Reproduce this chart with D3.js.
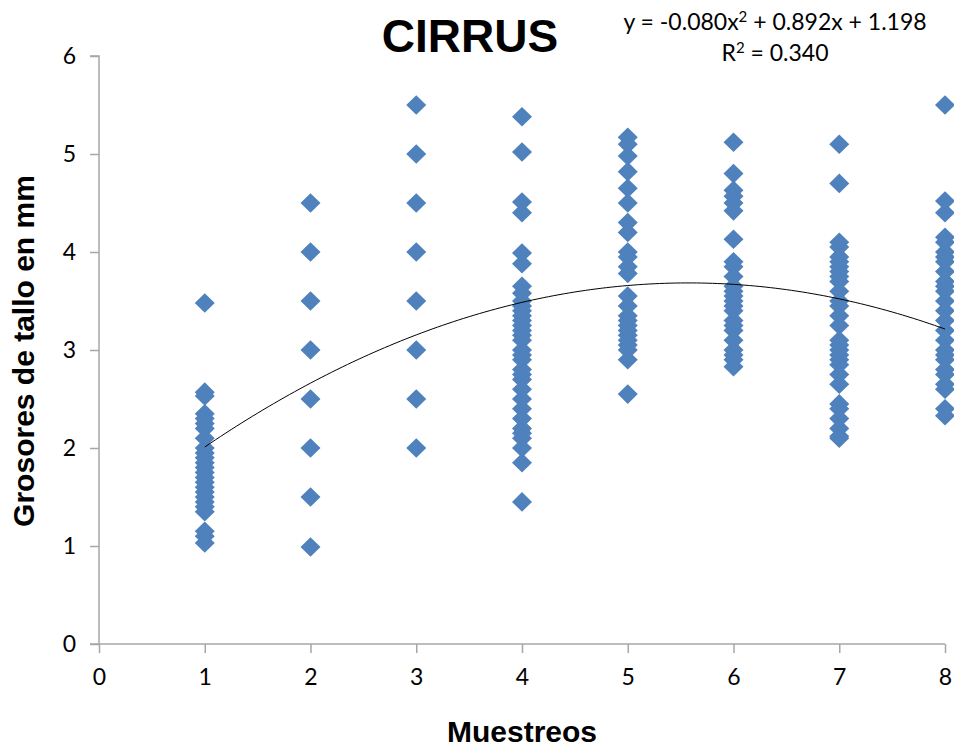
<!DOCTYPE html>
<html>
<head>
<meta charset="utf-8">
<script src="https://cdn.jsdelivr.net/npm/d3@7"></script>
<style>
  body { margin: 0; background: #fff; }
  svg { display: block; }
</style>
</head>
<body>
<script>
// values, one array per sampling
var muestreos = [1, 2, 3, 4, 5, 6, 7, 8];
var grosores1 = [3.48, 2.57, 2.53, 2.35, 2.3, 2.25, 2.2, 2.1, 2.0, 1.95, 1.9, 1.85, 1.8, 1.75, 1.7, 1.65, 1.6, 1.55, 1.5, 1.45, 1.4, 1.35, 1.15, 1.1, 1.03];
var grosores2 = [4.5, 4.0, 3.5, 3.0, 2.5, 2.0, 1.5, 0.99];
var grosores3 = [5.5, 5.0, 4.5, 4.0, 3.5, 3.0, 2.5, 2.0];
var grosores4 = [5.38, 5.02, 4.51, 4.4, 3.99, 3.88, 3.65, 3.58, 3.5, 3.45, 3.4, 3.35, 3.3, 3.25, 3.2, 3.15, 3.1, 3.0, 2.95, 2.9, 2.8, 2.75, 2.7, 2.6, 2.5, 2.4, 2.3, 2.2, 2.15, 2.1, 2.0, 1.85, 1.45];
var grosores5 = [5.17, 5.1, 4.98, 4.82, 4.65, 4.5, 4.3, 4.2, 4.0, 3.95, 3.85, 3.78, 3.55, 3.45, 3.35, 3.3, 3.25, 3.2, 3.15, 3.1, 3.05, 3.0, 2.9, 2.55];
var grosores6 = [5.12, 4.8, 4.63, 4.57, 4.5, 4.42, 4.13, 3.9, 3.85, 3.75, 3.65, 3.6, 3.55, 3.5, 3.45, 3.4, 3.3, 3.25, 3.2, 3.1, 3.0, 2.95, 2.9, 2.83];
var grosores7 = [5.1, 4.7, 4.1, 4.05, 3.95, 3.9, 3.85, 3.8, 3.75, 3.7, 3.6, 3.5, 3.45, 3.35, 3.25, 3.1, 3.05, 3.0, 2.95, 2.9, 2.85, 2.75, 2.65, 2.45, 2.4, 2.3, 2.2, 2.12, 2.1];
var grosores8 = [5.5, 4.52, 4.4, 4.15, 4.1, 4.0, 3.95, 3.9, 3.8, 3.7, 3.65, 3.6, 3.5, 3.4, 3.3, 3.2, 3.1, 3.0, 2.95, 2.9, 2.8, 2.75, 2.65, 2.6, 2.4, 2.33];
var xTicks = [0, 1, 2, 3, 4, 5, 6, 7, 8];
var yTicks = [0, 1, 2, 3, 4, 5, 6];
// polynomial trendline as printed on the chart
var coefs = [-0.080, 0.892, 1.198];
var r2 = 0.340;

var columnas = [grosores1, grosores2, grosores3, grosores4, grosores5, grosores6, grosores7, grosores8];
var puntos = [];
columnas.forEach(function(col, i) {
  col.forEach(function(v) { puntos.push({ x: muestreos[i], y: v }); });
});

var W = 954, H = 749;
var svg = d3.select('body').append('svg').attr('width', W).attr('height', H);

var x = d3.scaleLinear().domain([0, 8]).range([99, 945]);
var y = d3.scaleLinear().domain([0, 6]).range([644, 56]);

var gris = '#a6a6a6';
var fuente = 'Lato, "Open Sans", sans-serif';

// y axis
var yAxis = svg.append('g').attr('transform', 'translate(99,0)')
  .call(d3.axisLeft(y).tickValues(yTicks).tickSize(9).tickPadding(14).tickFormat(d3.format('d')));
// x axis
var xAxis = svg.append('g').attr('transform', 'translate(0,644)')
  .call(d3.axisBottom(x).tickValues(xTicks).tickSize(9).tickPadding(16).tickFormat(d3.format('d')));

[yAxis, xAxis].forEach(function(g) {
  g.select('.domain').attr('stroke', gris).attr('stroke-width', 1.5);
  g.selectAll('.tick line').attr('stroke', gris).attr('stroke-width', 1.5);
  g.selectAll('.tick text').attr('fill', '#000').style('font-family', fuente).style('font-size', '23px');
});
// domain lines, with the small outer stubs
xAxis.select('.domain').attr('d', 'M' + (x(0) - 9) + ',0H' + x(8));
yAxis.select('.domain').attr('d', 'M-9,' + y(6) + 'H0V' + y(0));

// markers
var diamante = 'M0,-9.8L10,0L0,9.8L-10,0Z';
svg.append('g').selectAll('path')
  .data(puntos)
  .enter()
  .append('path')
  .attr('d', diamante)
  .attr('transform', function(d) { return 'translate(' + x(d.x) + ',' + y(d.y) + ')'; })
  .attr('fill', '#4F81BD');

// trendline
var curva = d3.range(1, 8.001, 0.05).map(function(t) {
  return [t, coefs[0] * t * t + coefs[1] * t + coefs[2]];
});
svg.append('path')
  .datum(curva)
  .attr('fill', 'none')
  .attr('stroke', '#000')
  .attr('stroke-width', 1)
  .attr('d', d3.line().x(function(d) { return x(d[0]); }).y(function(d) { return y(d[1]); }));

// title
svg.append('text')
  .attr('x', 470).attr('y', 52)
  .attr('text-anchor', 'middle')
  .style('font-family', '"Liberation Sans", Arial, sans-serif')
  .style('font-weight', 'bold')
  .style('font-size', '46px')
  .text('CIRRUS');

// equation
var eq = svg.append('text')
  .attr('x', 775).attr('y', 30)
  .attr('text-anchor', 'middle')
  .style('font-family', fuente)
  .style('font-size', '23px');
eq.append('tspan').text('y = ' + coefs[0].toFixed(3) + 'x');
eq.append('tspan').attr('dy', -8).style('font-size', '15px').text('2');
eq.append('tspan').attr('dy', 8).text(' + ' + coefs[1].toFixed(3) + 'x + ' + coefs[2].toFixed(3));

var r2t = svg.append('text')
  .attr('x', 775).attr('y', 61)
  .attr('text-anchor', 'middle')
  .style('font-family', fuente)
  .style('font-size', '23px');
r2t.append('tspan').text('R');
r2t.append('tspan').attr('dy', -8).style('font-size', '15px').text('2');
r2t.append('tspan').attr('dy', 8).text(' = ' + r2.toFixed(3));

// axis titles
svg.append('text')
  .attr('transform', 'translate(34,351) rotate(-90)')
  .attr('text-anchor', 'middle')
  .style('font-family', '"Liberation Sans", Arial, sans-serif')
  .style('font-weight', 'bold')
  .style('font-size', '30px')
  .text('Grosores de tallo en mm');

svg.append('text')
  .attr('x', 522).attr('y', 742)
  .attr('text-anchor', 'middle')
  .style('font-family', '"Liberation Sans", Arial, sans-serif')
  .style('font-weight', 'bold')
  .style('font-size', '30px')
  .text('Muestreos');
</script>
</body>
</html>
